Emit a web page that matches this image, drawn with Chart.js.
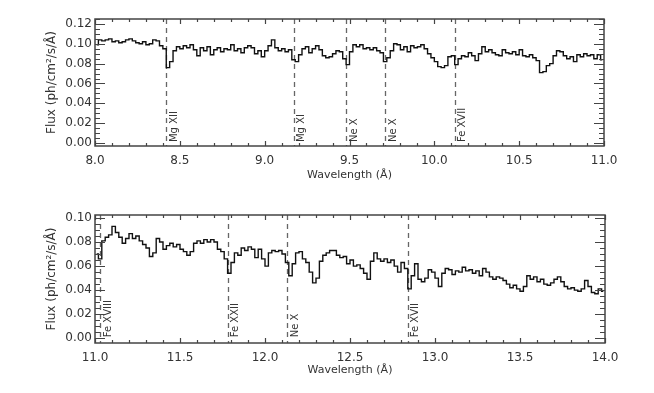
<!DOCTYPE html>
<html>
<head>
<meta charset="utf-8">
<script src="https://cdn.jsdelivr.net/npm/chart.js@4.4.1/dist/chart.umd.min.js"></script>
<style>
    body { margin: 0; background: #fff; }
    #wrap { position: relative; width: 654px; height: 393px; }
    #wrap canvas { position: absolute; left: 0; }
</style>
</head>
<body>
<div id="wrap">
    <canvas id="spec_top" width="654" height="196" style="top:0"></canvas>
    <canvas id="spec_bottom" width="654" height="197" style="top:196px"></canvas>
</div>
<script>
    // bin centres start at 8.01 / 11.01, bins are 0.02 A wide
    const binWidth = 0.02;
    const topStart = 8.01;
    const bottomStart = 11.01;

    const flux_top = [
        0.099, 0.104, 0.103, 0.104, 0.105, 0.102, 0.103, 0.101, 0.102, 0.104,
        0.105, 0.103, 0.101, 0.100, 0.102, 0.099, 0.100, 0.104, 0.103, 0.098,
        0.095, 0.076, 0.082, 0.093, 0.097, 0.095, 0.098, 0.096, 0.099, 0.094,
        0.088, 0.096, 0.093, 0.097, 0.089, 0.094, 0.096, 0.092, 0.095, 0.094,
        0.099, 0.093, 0.095, 0.091, 0.096, 0.098, 0.096, 0.090, 0.093, 0.087,
        0.093, 0.098, 0.104, 0.096, 0.093, 0.095, 0.092, 0.094, 0.084, 0.082,
        0.089, 0.095, 0.097, 0.091, 0.095, 0.098, 0.094, 0.088, 0.086, 0.087,
        0.090, 0.093, 0.092, 0.085, 0.079, 0.092, 0.099, 0.097, 0.099, 0.095,
        0.096, 0.094, 0.096, 0.093, 0.091, 0.082, 0.086, 0.093, 0.100, 0.099,
        0.094, 0.097, 0.092, 0.098, 0.096, 0.097, 0.099, 0.095, 0.090, 0.086,
        0.082, 0.077, 0.076, 0.078, 0.087, 0.088, 0.079, 0.085, 0.088, 0.087,
        0.091, 0.088, 0.083, 0.090, 0.097, 0.092, 0.094, 0.091, 0.089, 0.088,
        0.094, 0.091, 0.090, 0.092, 0.089, 0.094, 0.088, 0.087, 0.089, 0.086,
        0.083, 0.071, 0.072, 0.078, 0.080, 0.088, 0.093, 0.092, 0.088, 0.085,
        0.087, 0.082, 0.089, 0.087, 0.090, 0.088, 0.089, 0.085, 0.089, 0.084
    ];

    const flux_bottom = [
        0.070, 0.066, 0.081, 0.084, 0.086, 0.093, 0.088, 0.084, 0.079, 0.083,
        0.087, 0.083, 0.085, 0.081, 0.078, 0.075, 0.068, 0.071, 0.083, 0.080,
        0.074, 0.077, 0.079, 0.076, 0.078, 0.074, 0.072, 0.069, 0.072, 0.079,
        0.081, 0.079, 0.082, 0.080, 0.082, 0.080, 0.074, 0.072, 0.066, 0.054,
        0.063, 0.071, 0.069, 0.075, 0.073, 0.076, 0.074, 0.067, 0.074, 0.066,
        0.060, 0.071, 0.073, 0.072, 0.073, 0.070, 0.063, 0.052, 0.062, 0.071,
        0.072, 0.066, 0.063, 0.055, 0.046, 0.050, 0.064, 0.069, 0.071, 0.073,
        0.073, 0.069, 0.067, 0.068, 0.062, 0.065, 0.060, 0.061, 0.058, 0.054,
        0.049, 0.064, 0.071, 0.066, 0.064, 0.066, 0.063, 0.065, 0.060, 0.055,
        0.063, 0.058, 0.041, 0.052, 0.062, 0.049, 0.047, 0.050, 0.057, 0.055,
        0.050, 0.043, 0.054, 0.058, 0.057, 0.053, 0.056, 0.055, 0.059, 0.056,
        0.057, 0.054, 0.056, 0.052, 0.058, 0.055, 0.051, 0.049, 0.051, 0.050,
        0.048, 0.045, 0.042, 0.044, 0.041, 0.039, 0.043, 0.052, 0.049, 0.051,
        0.047, 0.049, 0.045, 0.044, 0.046, 0.049, 0.051, 0.047, 0.043, 0.041,
        0.042, 0.040, 0.039, 0.041, 0.048, 0.043, 0.038, 0.037, 0.041, 0.039
    ];

    const lines_top = [8.42, 9.17, 9.48, 9.71, 10.12];
    const labels_top = ['Mg XII', 'Mg XI', 'Ne X', 'Ne X', 'Fe XVII'];
    const lines_bottom = [11.03, 11.78, 12.13, 12.84];
    const labels_bottom = ['Fe XVIII', 'Fe XXII', 'Ne X', 'Fe XVII'];

    const xticks_top = [8.0, 8.5, 9.0, 9.5, 10.0, 10.5, 11.0];
    const xticks_bottom = [11.0, 11.5, 12.0, 12.5, 13.0, 13.5, 14.0];
    const yticks_top = [0.00, 0.02, 0.04, 0.06, 0.08, 0.10, 0.12];
    const yticks_bottom = [0.00, 0.02, 0.04, 0.06, 0.08, 0.10];

    const axisColor = '#444';
    const textColor = '#333';
    const fontFamily = 'DejaVu Sans';

    // IDL style box with inward ticks, dashed line ids
    const idlAxes = {
        id: 'idlAxes',
        beforeDatasetsDraw(chart, args, opts) {
            const {ctx, chartArea: a, scales: {x}} = chart;
            ctx.save();
            ctx.strokeStyle = '#666';
            ctx.lineWidth = 1.3;
            ctx.setLineDash([5, 4]);
            opts.lines.forEach(w => {
                const px = Math.round(x.getPixelForValue(w)) + 0.5;
                ctx.beginPath();
                ctx.moveTo(px, a.top);
                ctx.lineTo(px, a.bottom);
                ctx.stroke();
            });
            ctx.restore();
        },
        afterDatasetsDraw(chart, args, opts) {
            const {ctx, scales: {x, y}} = chart;
            ctx.save();
            ctx.fillStyle = textColor;
            ctx.font = '10px ' + fontFamily;
            ctx.textAlign = 'left';
            ctx.textBaseline = 'middle';
            opts.lines.forEach((w, i) => {
                ctx.save();
                ctx.translate(x.getPixelForValue(w) + 8, y.getPixelForValue(0) - 1);
                ctx.rotate(-Math.PI / 2);
                ctx.fillText(opts.labels[i], 0, 0);
                ctx.restore();
            });
            ctx.restore();
        },
        afterDraw(chart) {
            const {ctx, chartArea: a, scales: {x, y}} = chart;
            ctx.save();
            ctx.setLineDash([]);
            ctx.strokeStyle = axisColor;
            ctx.lineWidth = 1.5;
            ctx.strokeRect(a.left, a.top, a.right - a.left, a.bottom - a.top);
            ctx.lineWidth = 1.2;
            const nx = Math.round((x.max - x.min) / 0.1);
            for (let i = 0; i <= nx; i++) {
                const px = Math.round(x.getPixelForValue(x.min + i * 0.1)) + 0.5;
                const len = i % 5 === 0 ? 5 : 3;
                ctx.beginPath();
                ctx.moveTo(px, a.bottom); ctx.lineTo(px, a.bottom - len);
                ctx.moveTo(px, a.top); ctx.lineTo(px, a.top + len);
                ctx.stroke();
            }
            const ny = Math.floor(y.max / 0.005 + 1e-6);
            for (let i = 0; i <= ny; i++) {
                const py = Math.round(y.getPixelForValue(i * 0.005)) + 0.5;
                const len = i % 4 === 0 ? 10 : 5;
                ctx.beginPath();
                ctx.moveTo(a.left, py); ctx.lineTo(a.left + len, py);
                ctx.moveTo(a.right, py); ctx.lineTo(a.right - len, py);
                ctx.stroke();
            }
            ctx.restore();
        }
    };

    function makeChart(id, start, flux, xmin, xmax, ymin, ymax, xticks, yticks, lines, labels, rightPad, titlePad) {
        const points = flux.map((v, i) => ({x: start + i * binWidth, y: v}));
        return new Chart(document.getElementById(id), {
            type: 'line',
            data: {
                datasets: [{
                    data: points,
                    borderColor: '#111',
                    borderWidth: 1.4,
                    pointRadius: 0,
                    stepped: 'middle',
                    fill: false
                }]
            },
            options: {
                responsive: false,
                animation: false,
                devicePixelRatio: 1,
                layout: {padding: {top: 19, right: rightPad, left: 0, bottom: 0}},
                plugins: {
                    legend: {display: false},
                    tooltip: {enabled: false},
                    idlAxes: {lines: lines, labels: labels}
                },
                scales: {
                    x: {
                        type: 'linear',
                        min: xmin,
                        max: xmax,
                        grid: {display: false, drawTicks: false},
                        border: {display: false},
                        afterBuildTicks: s => { s.ticks = xticks.map(v => ({value: v})); },
                        afterFit: s => { s.height = 50; },
                        ticks: {
                            padding: 8,
                            color: textColor,
                            font: {family: fontFamily, size: 12},
                            maxRotation: 0,
                            callback: v => v.toFixed(1)
                        },
                        title: {
                            display: true,
                            text: 'Wavelength (Å)',
                            color: textColor,
                            font: {family: fontFamily, size: 11},
                            padding: {top: 0, bottom: titlePad}
                        }
                    },
                    y: {
                        min: ymin,
                        max: ymax,
                        grid: {display: false, drawTicks: false},
                        border: {display: false},
                        afterBuildTicks: s => { s.ticks = yticks.map(v => ({value: v})); },
                        afterFit: s => { s.width = 95; },
                        ticks: {
                            padding: 3,
                            color: textColor,
                            font: {family: fontFamily, size: 12},
                            callback: v => v.toFixed(2)
                        },
                        title: {
                            display: true,
                            text: 'Flux (ph/cm²/s/Å)',
                            color: textColor,
                            font: {family: fontFamily, size: 12},
                            padding: {top: 45, bottom: 0}
                        }
                    }
                }
            },
            plugins: [idlAxes]
        });
    }

    const spec_top = makeChart('spec_top', topStart, flux_top, 8.0, 11.0, -0.003, 0.125,
        xticks_top, yticks_top, lines_top, labels_top, 50, 14);

    const spec_bottom = makeChart('spec_bottom', bottomStart, flux_bottom, 11.0, 14.0, -0.004, 0.1025,
        xticks_bottom, yticks_bottom, lines_bottom, labels_bottom, 49, 16);
</script>
</body>
</html>
